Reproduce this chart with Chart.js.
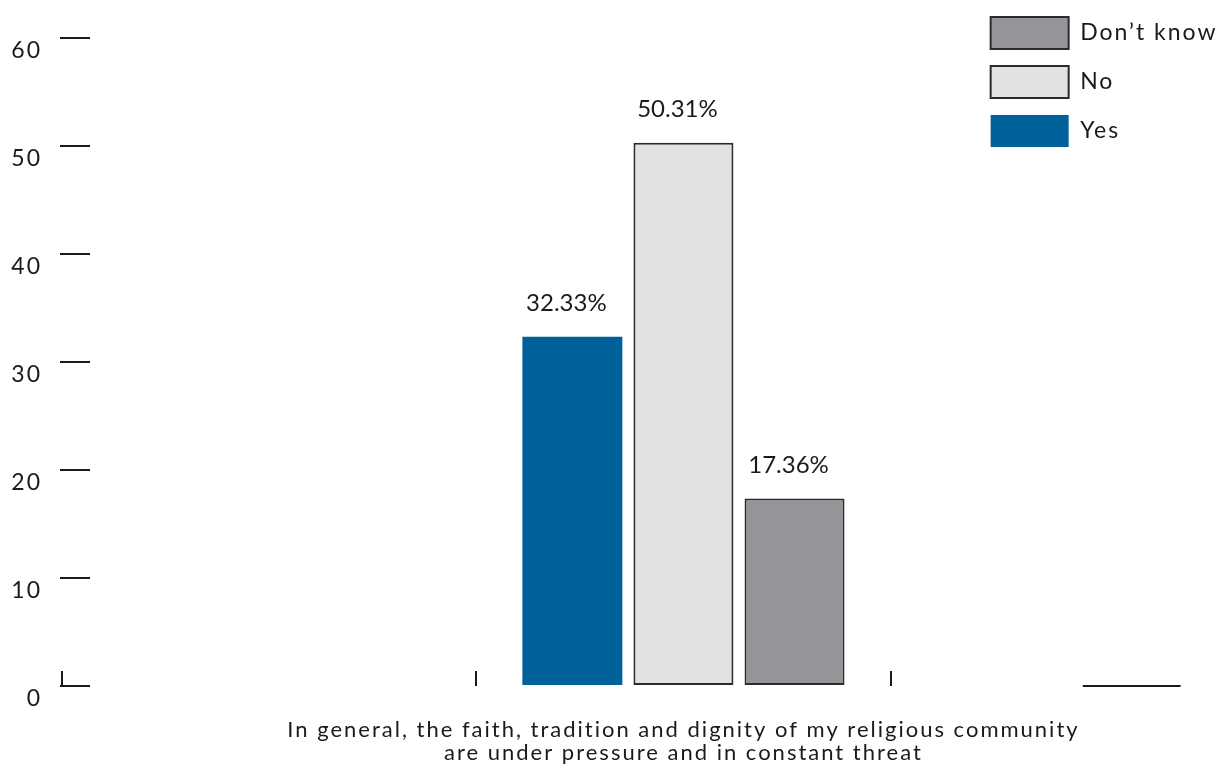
<!DOCTYPE html>
<html lang="en">
<head>
<meta charset="UTF-8">
<title>Religious community under pressure</title>
<script src="https://cdn.jsdelivr.net/npm/chart.js"></script>
<style>
  html, body { margin: 0; padding: 0; background: #fff; }
  #wrap { width: 1221px; height: 776px; }
</style>
</head>
<body>
<div id="wrap"><canvas id="threatChart"></canvas></div>
<script>
  // answers to the statement, in drawing order
  const answers = ['Yes', 'No', 'Don\u2019t know'];
  const shares = [32.33, 50.31, 17.36];
  const questionLines = [
    'In general, the faith, tradition and dignity of my religious community',
    'are under pressure and in constant threat'
  ];
  const yTicks = [0, 10, 20, 30, 40, 50, 60];

  const fills = ['#00609a', '#e1e2e4', '#949599'];
  const edges = ['#00609a', '#2b2b2b', '#2b2b2b'];
  const edgeWidths = [0, 2, 2];

  // the single question sits at x = 0, its slot runs from -0.5 to 0.5
  const xMarks = [-1.5, -0.5, 0.5];
  const baseRun = [0.964, 1.2];

  const ink = '#1a1a1a';
  const face = 'Lato, "Noto Sans", sans-serif';

  // wide tracking for axis and legend text
  const tracking = {
    id: 'tracking',
    beforeUpdate(chart) { chart.ctx.letterSpacing = '2px'; },
    beforeDraw(chart) { chart.ctx.letterSpacing = '2px'; }
  };

  const tickMarks = {
    id: 'tickMarks',
    afterDraw(chart) {
      const {ctx, scales: {x, y}} = chart;
      const base = Math.round(y.getPixelForValue(0));
      ctx.save();
      ctx.strokeStyle = ink;
      ctx.lineWidth = 2;
      ctx.beginPath();
      xMarks.forEach(v => {
        const px = Math.round(x.getPixelForValue(v));
        ctx.moveTo(px, base);
        ctx.lineTo(px, base - 15);
      });
      ctx.moveTo(x.getPixelForValue(baseRun[0]), base);
      ctx.lineTo(x.getPixelForValue(baseRun[1]), base);
      ctx.stroke();
      ctx.restore();
    }
  };

  const valueLabels = {
    id: 'valueLabels',
    afterDatasetsDraw(chart) {
      const {ctx} = chart;
      ctx.save();
      ctx.letterSpacing = '0px';
      ctx.font = '24px ' + face;
      ctx.fillStyle = ink;
      ctx.textAlign = 'center';
      ctx.textBaseline = 'alphabetic';
      chart.data.datasets.forEach((ds, i) => {
        const bar = chart.getDatasetMeta(i).data[0];
        ctx.fillText(ds.data[0].y.toFixed(2) + '%', bar.x - 6, bar.y - 26);
      });
      ctx.restore();
    }
  };

  new Chart(document.getElementById('threatChart'), {
    type: 'bar',
    data: {
      datasets: answers.map((name, i) => ({
        label: name,
        data: [{x: 0, y: shares[i]}],
        backgroundColor: fills[i],
        borderColor: edges[i],
        borderWidth: edgeWidths[i],
        borderSkipped: false,
        categoryPercentage: 1.6087,
        barPercentage: 0.9
      }))
    },
    options: {
      responsive: true,
      maintainAspectRatio: false,
      animation: false,
      layout: {
        autoPadding: false,
        padding: {top: 0, left: 0, right: -6.5, bottom: 0}
      },
      plugins: {
        legend: {
          position: 'right',
          align: 'start',
          reverse: true,
          labels: {
            boxWidth: 78,
            boxHeight: 32,
            padding: 17,
            color: ink,
            font: {family: face, size: 23}
          }
        },
        tooltip: {enabled: false}
      },
      scales: {
        x: {
          type: 'linear',
          offset: false,
          min: -1.4324,
          max: 0.7005,
          afterBuildTicks: s => { s.ticks = [-0.5, 0, 0.5].map(v => ({value: v})); },
          grid: {display: false, drawTicks: true, tickLength: 21.1},
          border: {display: false},
          ticks: {
            autoSkip: false,
            maxRotation: 0,
            minRotation: 0,
            padding: 11.35,
            color: ink,
            font: {family: face, size: 22, lineHeight: 1.05},
            callback: v => (v === 0 ? questionLines : '')
          }
        },
        y: {
          min: 0,
          max: 60.58,
          afterBuildTicks: s => { s.ticks = yTicks.map(v => ({value: v})); },
          afterFit: s => { s.width = 90; },
          grid: {drawOnChartArea: false, tickLength: 30, color: ink, lineWidth: 2},
          border: {display: false},
          ticks: {
            padding: 18,
            labelOffset: 13,
            color: ink,
            font: {family: face, size: 23}
          }
        }
      }
    },
    plugins: [tracking, tickMarks, valueLabels]
  });
</script>
</body>
</html>
